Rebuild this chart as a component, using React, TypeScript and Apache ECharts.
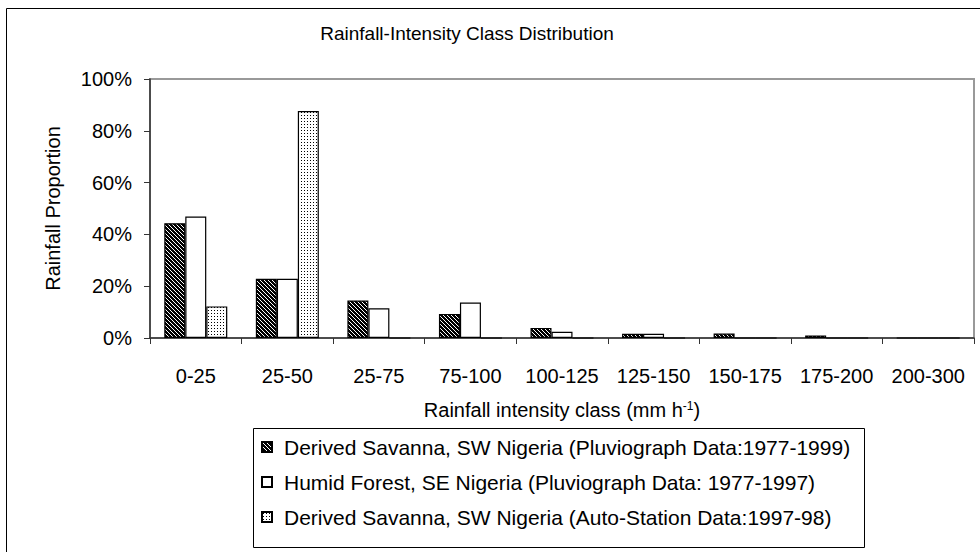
import React, { useEffect, useRef } from 'react';
import * as echarts from 'echarts';

const categories = ['0-25', '25-50', '25-75', '75-100', '100-125', '125-150', '150-175', '175-200', '200-300'];
const seriesNames = [
  'Derived Savanna, SW Nigeria (Pluviograph Data:1977-1999)',
  'Humid Forest, SE Nigeria (Pluviograph Data: 1977-1997)',
  'Derived Savanna, SW Nigeria (Auto-Station Data:1997-98)',
];
const savannaPluvio = [0.443, 0.229, 0.145, 0.093, 0.039, 0.016, 0.017, 0.01, 0];
const humidForest = [0.469, 0.229, 0.115, 0.137, 0.024, 0.016, 0, 0, 0];
const savannaAuto = [0.122, 0.876, 0, 0, 0, 0, 0, 0, 0];
const yMin = 0;
const yMax = 1;
const yStep = 0.2;

const FONT = 'Liberation Sans, Arial, Helvetica, sans-serif';

function makeHatch() {
  const c = document.createElement('canvas');
  c.width = 4;
  c.height = 4;
  const ctx = c.getContext('2d')!;
  ctx.fillStyle = '#000';
  ctx.fillRect(0, 0, 4, 4);
  ctx.fillStyle = '#fff';
  for (let i = 0; i < 4; i++) {
    ctx.fillRect(i, i, 1, 1);
  }
  return c;
}

function makeDots() {
  const c = document.createElement('canvas');
  c.width = 3;
  c.height = 3;
  const ctx = c.getContext('2d')!;
  ctx.fillStyle = '#fff';
  ctx.fillRect(0, 0, 3, 3);
  ctx.fillStyle = '#000';
  ctx.fillRect(1, 1, 1, 1);
  return c;
}

export default function App() {
  const ref = useRef<HTMLDivElement>(null);
  useEffect(() => {
    if (!ref.current) return;
    const chart = echarts.init(ref.current, null, { renderer: 'svg' });
    const hatch = makeHatch();
    const dots = makeDots();
    const colors: any[] = [
      { image: hatch, repeat: 'repeat', imageWidth: 4, imageHeight: 4 },
      '#ffffff',
      { image: dots, repeat: 'repeat', imageWidth: 3, imageHeight: 3 },
    ];
    const dataSets = [savannaPluvio, humidForest, savannaAuto];
    const option: any = {
      animation: false,
      backgroundColor: '#ffffff',
      textStyle: { fontFamily: FONT, color: '#000' },
      title: {
        text: 'Rainfall-Intensity Class Distribution',
        left: 462,
        textAlign: 'center',
        top: 19,
        textStyle: { fontFamily: FONT, fontSize: 19, fontWeight: 'normal', color: '#000' },
      },
      graphic: [
        {
          type: 'rect',
          shape: { x: 6.5, y: 8.5, width: 1000, height: 600 },
          style: { fill: 'none', stroke: '#000', lineWidth: 1 },
          silent: true,
        },
        {
          type: 'rect',
          shape: { x: 253.5, y: 428.5, width: 611, height: 119 },
          style: { fill: 'none', stroke: '#000', lineWidth: 1 },
          silent: true,
        },
      ],
      legend: {
        orient: 'vertical',
        left: 261,
        top: 436,
        padding: 0,
        itemWidth: 10,
        itemHeight: 10,
        itemGap: 13,
        icon: 'rect',
        data: seriesNames,
        textStyle: { fontFamily: FONT, fontSize: 21, lineHeight: 22, color: '#000', padding: [0, 0, 0, 7] },
      },
      grid: {
        left: 150,
        top: 79,
        width: 824,
        height: 259,
        show: true,
        borderColor: '#999',
        borderWidth: 2,
        backgroundColor: '#fff',
      },
      xAxis: {
        type: 'category',
        data: categories,
        name: 'Rainfall intensity class (mm h{sup|-1})',
        nameLocation: 'middle',
        nameGap: 62,
        nameTextStyle: {
          fontFamily: FONT,
          fontSize: 20,
          color: '#000',
          rich: {
            sup: { fontFamily: FONT, fontSize: 12, verticalAlign: 'top', color: '#000' },
          },
        },
        axisLine: { lineStyle: { color: '#333', width: 1.5 } },
        axisTick: { show: true, length: 6, lineStyle: { color: '#333' } },
        axisLabel: { fontFamily: FONT, fontSize: 20, color: '#000', margin: 28, interval: 0 },
      },
      yAxis: {
        type: 'value',
        min: yMin,
        max: yMax,
        interval: yStep,
        name: 'Rainfall Proportion',
        nameLocation: 'middle',
        nameGap: 87,
        nameRotate: 90,
        nameTextStyle: { fontFamily: FONT, fontSize: 20, color: '#000' },
        axisLine: { show: true, lineStyle: { color: '#333', width: 1.5 } },
        axisTick: { show: true, length: 6, lineStyle: { color: '#333' } },
        axisLabel: {
          fontFamily: FONT,
          fontSize: 20,
          color: '#000',
          margin: 18,
          formatter: (v: number) => Math.round(v * 100) + '%',
        },
        splitLine: { show: false },
      },
      series: dataSets.map((d, i) => ({
        name: seriesNames[i],
        type: 'bar',
        data: d,
        barWidth: 21,
        barGap: '0%',
        itemStyle: { color: colors[i], borderColor: '#000', borderWidth: 1.2 },
      })),
    };
    chart.setOption(option);
    return () => chart.dispose();
  }, []);
  return <div ref={ref} style={{ position: 'fixed', left: 0, top: 0, width: 980, height: 552 }} />;
}
